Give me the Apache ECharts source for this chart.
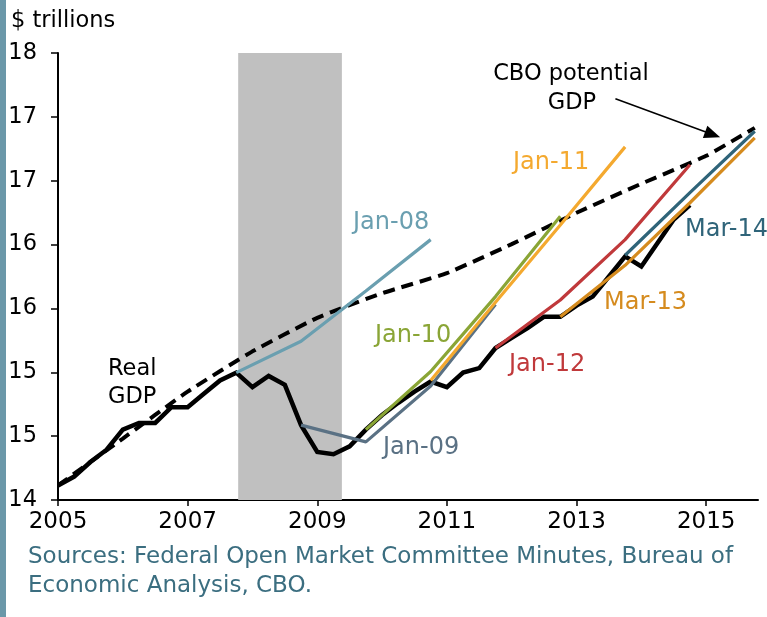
<!DOCTYPE html>
<html>
<head>
<meta charset="utf-8">
<script src="https://cdn.jsdelivr.net/npm/echarts@6/dist/echarts.min.js"></script>
<style>
  html, body { margin: 0; padding: 0; background: #fff; }
  #chart { width: 767px; height: 617px; }
</style>
</head>
<body>
<div id="chart"></div>
<script>
// 实际GDP（季度）
const gdpX = [2005.00, 2005.25, 2005.50, 2005.75, 2006.00, 2006.25, 2006.50, 2006.75,
  2007.00, 2007.25, 2007.50, 2007.75, 2008.00, 2008.25, 2008.50, 2008.75,
  2009.00, 2009.25, 2009.50, 2009.75, 2010.00, 2010.25, 2010.50, 2010.75,
  2011.00, 2011.25, 2011.50, 2011.75, 2012.00, 2012.25, 2012.50, 2012.75,
  2013.00, 2013.25, 2013.50, 2013.75, 2014.00, 2014.25, 2014.50, 2014.75];
const realGdp = [14.13, 14.21, 14.34, 14.45, 14.63, 14.69, 14.69, 14.83,
  14.83, 14.95, 15.07, 15.14, 15.01, 15.11, 15.03, 14.67,
  14.43, 14.41, 14.48, 14.63, 14.76, 14.87, 14.97, 15.06,
  15.01, 15.14, 15.18, 15.36, 15.45, 15.54, 15.64, 15.64,
  15.74, 15.82, 16.00, 16.18, 16.09, 16.30, 16.51, 16.64];

// CBO潜在GDP
const cboX = [2005, 2006, 2007, 2008, 2009, 2010, 2011, 2012, 2013, 2014, 2015, 2015.75];
const cboGdp = [14.13, 14.55, 14.97, 15.33, 15.63, 15.85, 16.03, 16.29, 16.57, 16.83, 17.08, 17.33];

// FOMC预测
const jan08X = [2007.75, 2008.75, 2009.75, 2010.75];
const jan08 = [15.14, 15.42, 15.87, 16.33];
const jan09X = [2008.75, 2009.75, 2010.75, 2011.75];
const jan09 = [14.67, 14.52, 15.02, 15.75];
const jan10X = [2009.75, 2010.75, 2011.75, 2012.75];
const jan10 = [14.63, 15.15, 15.82, 16.54];
const jan11X = [2010.75, 2011.75, 2012.75, 2013.75];
const jan11 = [15.07, 15.77, 16.46, 17.16];
const jan12X = [2011.75, 2012.75, 2013.75, 2014.75];
const jan12 = [15.36, 15.79, 16.33, 17.00];
const mar13X = [2012.75, 2013.75, 2014.75, 2015.75];
const mar13 = [15.64, 16.10, 16.66, 17.24];
const mar14X = [2013.75, 2014.75, 2015.75];
const mar14 = [16.19, 16.75, 17.30];

// 衰退区间
const recession = [2007.78, 2009.38];

// 刻度
const xTicks = [2005, 2007, 2009, 2011, 2013, 2015];
const yTicks = [14, 14.5714, 15.1429, 15.7143, 16.2857, 16.8571, 17.4286, 18];

const FONT = '"DejaVu Sans", Verdana, sans-serif';
const pairs = (xs, ys) => xs.map((x, i) => [x, ys[i]]);

const forecasts = [
  { name: 'Jan-08', x: jan08X, y: jan08, color: '#6a9fb0', lx: 353, ly: 223 },
  { name: 'Jan-09', x: jan09X, y: jan09, color: '#5a7184', lx: 383, ly: 448 },
  { name: 'Jan-10', x: jan10X, y: jan10, color: '#8aa536', lx: 375, ly: 336 },
  { name: 'Jan-11', x: jan11X, y: jan11, color: '#f4a92f', lx: 513, ly: 163 },
  { name: 'Jan-12', x: jan12X, y: jan12, color: '#c0393b', lx: 509, ly: 365 },
  { name: 'Mar-13', x: mar13X, y: mar13, color: '#d58b1e', lx: 604, ly: 303 },
  { name: 'Mar-14', x: mar14X, y: mar14, color: '#2f6479', lx: 685, ly: 230 }
];

const chart = echarts.init(document.getElementById('chart'));

const txt = (x, y, text, color, size, align) => ({
  type: 'text', x: x, y: y,
  style: { text: text, fill: color, font: size + 'px ' + FONT, align: align || 'left', verticalAlign: 'middle' }
});

chart.setOption({
  animation: false,
  backgroundColor: '#fff',
  grid: { left: 58, right: 9, top: 53, bottom: 117 },
  xAxis: {
    type: 'value', min: 2005, max: 2015.8,
    axisLine: { show: true, lineStyle: { color: '#000', width: 2 } },
    axisTick: { show: true, customValues: xTicks, length: 6, lineStyle: { color: '#000', width: 1.5 } },
    axisLabel: { customValues: xTicks, margin: 11, color: '#000', fontSize: 23, fontFamily: FONT,
      formatter: v => String(v) },
    splitLine: { show: false }
  },
  yAxis: {
    type: 'value', min: 14, max: 18,
    axisLine: { show: true, lineStyle: { color: '#000', width: 2 } },
    axisTick: { show: true, customValues: yTicks, length: 7, lineStyle: { color: '#000', width: 1.5 } },
    axisLabel: { customValues: yTicks, margin: 21, color: '#000', fontSize: 22.5, fontFamily: FONT,
      formatter: v => String(Math.round(v)) },
    splitLine: { show: false }
  },
  series: [
    {
      name: 'Recession', type: 'line', data: [], z: 1,
      markArea: {
        silent: true,
        itemStyle: { color: '#c0c0c0', opacity: 1 },
        data: [[{ xAxis: recession[0] }, { xAxis: recession[1] }]]
      }
    },
    {
      name: 'Real GDP', type: 'line', data: pairs(gdpX, realGdp), z: 3,
      showSymbol: false, lineStyle: { color: '#000', width: 4.5, join: 'miter' }
    },
    {
      name: 'CBO potential GDP', type: 'line', data: pairs(cboX, cboGdp), z: 4,
      showSymbol: false, smooth: 0.15,
      lineStyle: { color: '#000', width: 4, type: [12, 7] },
      markLine: {
        silent: true, symbol: ['none', 'triangle'], symbolSize: [13, 16],
        label: { show: false },
        lineStyle: { color: '#000', width: 1.5, type: 'solid' },
        data: [[{ coord: [2013.6, 17.59] }, { coord: [2015.1, 17.27] }]]
      }
    }
  ].concat(forecasts.map(f => ({
    name: f.name, type: 'line', data: pairs(f.x, f.y), z: 5,
    showSymbol: false, lineStyle: { color: f.color, width: 3.2 }
  }))),
  graphic: [
    { type: 'rect', shape: { x: 0, y: 0, width: 6, height: 617 }, style: { fill: '#6b98a9' } },
    txt(11, 21, '$ trillions', '#000', 22.5),
    txt(108, 369, 'Real', '#000', 22.5),
    txt(108, 397, 'GDP', '#000', 22.5),
    txt(571, 74, 'CBO potential', '#000', 22.5, 'center'),
    txt(572, 103, 'GDP', '#000', 22.5, 'center'),
    txt(28, 557, 'Sources: Federal Open Market Committee Minutes, Bureau of', '#3b6e80', 23),
    txt(28, 586, 'Economic Analysis, CBO.', '#3b6e80', 23)
  ].concat(forecasts.map(f => txt(f.lx, f.ly, f.name, f.color, 24)))
});
</script>
</body>
</html>
